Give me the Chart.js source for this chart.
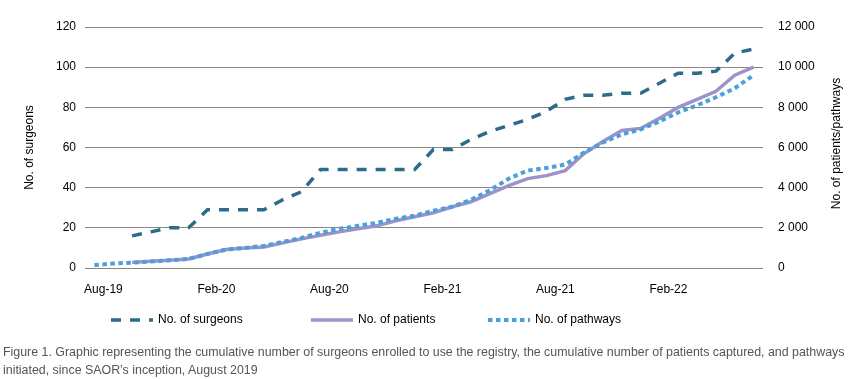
<!DOCTYPE html>
<html>
<head>
<meta charset="utf-8">
<script src="https://cdn.jsdelivr.net/npm/chart.js@4.4.1/dist/chart.umd.min.js"></script>
<style>
  body { margin: 0; background: #fff; }
  #wrap { position: relative; width: 849px; height: 379px; }
  #caption {
    position: absolute; left: 3px; top: 343px;
    font: 12.4px "Liberation Sans", Arial, sans-serif; line-height: 18px;
    color: #555; white-space: nowrap;
  }
</style>
</head>
<body>
<div id="wrap">
  <canvas id="chart" width="849" height="379"></canvas>
  <div id="caption">Figure 1. Graphic representing the cumulative number of surgeons enrolled to use the registry, the cumulative number of patients captured, and pathways<br>initiated, since SAOR’s inception, August 2019</div>
</div>
<script>
const months = ['Aug-19','Sep-19','Oct-19','Nov-19','Dec-19','Jan-20','Feb-20','Mar-20','Apr-20','May-20','Jun-20','Jul-20',
  'Aug-20','Sep-20','Oct-20','Nov-20','Dec-20','Jan-21','Feb-21','Mar-21','Apr-21','May-21','Jun-21','Jul-21',
  'Aug-21','Sep-21','Oct-21','Nov-21','Dec-21','Jan-22','Feb-22','Mar-22','Apr-22','May-22','Jun-22','Jul-22']

const surgeons = [null, null, 16, 18, 20, 20, 29, 29, 29, 29, 34, 38,
  49, 49, 49, 49, 49, 49, 59, 59, 64, 68, 71, 74,
  78, 84, 86, 86, 87, 87, 92, 97, 97, 98, 107, 109]

const patients = [null, null, 280, 330, 380, 450, 700, 920, 1000, 1050, 1250, 1450,
  1630, 1800, 1950, 2100, 2350, 2550, 2750, 3050, 3300, 3700, 4100, 4450,
  4600, 4850, 5700, 6300, 6850, 6950, 7450, 8000, 8400, 8800, 9600, 10000]

const pathways = [150, 220, 270, 320, 380, 450, 700, 920, 1000, 1100, 1300, 1500,
  1750, 1950, 2100, 2250, 2450, 2600, 2850, 3050, 3400, 3870, 4450, 4850,
  4980, 5150, 5750, 6250, 6650, 6900, 7300, 7750, 8100, 8500, 8950, 9600]

const leftTitle = 'No. of surgeons'
const rightTitle = 'No. of patients/pathways'

const font = {family: '"Liberation Sans", Arial, sans-serif', size: 12}

// legend + right axis title (reads bottom-to-top, like the left one)
const extras = {
  id: 'extras',
  afterDraw(chart) {
    const ctx = chart.ctx
    const area = chart.chartArea
    ctx.save()
    ctx.font = '12px "Liberation Sans", Arial, sans-serif'
    ctx.fillStyle = '#000'
    ctx.textAlign = 'center'
    ctx.textBaseline = 'middle'
    ctx.translate(837, (area.top + area.bottom) / 2 - 4)
    ctx.rotate(-Math.PI / 2)
    ctx.fillText(rightTitle, 0, 0)
    ctx.restore()

    const starts = [111, 311, 488]
    const y = 320
    chart.data.datasets.forEach((ds, i) => {
      const x = starts[i]
      ctx.save()
      ctx.strokeStyle = ds.borderColor
      ctx.lineWidth = ds.borderWidth
      ctx.lineCap = 'butt'
      ctx.setLineDash(ds.borderDash || [])
      ctx.beginPath()
      ctx.moveTo(x, y)
      ctx.lineTo(x + 42, y)
      ctx.stroke()
      ctx.setLineDash([])
      ctx.font = '12px "Liberation Sans", Arial, sans-serif'
      ctx.fillStyle = '#000'
      ctx.textAlign = 'left'
      ctx.textBaseline = 'middle'
      ctx.fillText(ds.label, x + 47, y)
      ctx.restore()
    })
  }
}

let ctx = document.getElementById('chart').getContext('2d')
let chart = new Chart(ctx, {
  type: 'line',
  data: {
    labels: months,
    datasets: [
      {
        label: 'No. of surgeons',
        data: surgeons,
        yAxisID: 'y',
        borderColor: '#2D6B8A',
        borderWidth: 3.5,
        borderDash: [10, 9],
        borderCapStyle: 'butt',
        pointRadius: 0,
        tension: 0,
        order: 3,
      },
      {
        label: 'No. of patients',
        data: patients,
        yAxisID: 'y1',
        borderColor: '#9B93C9',
        borderWidth: 3.5,
        pointRadius: 0,
        tension: 0,
        order: 2,
      },
      {
        label: 'No. of pathways',
        data: pathways,
        yAxisID: 'y1',
        borderColor: '#4E9FD9',
        borderWidth: 4,
        borderDash: [4.5, 3.5],
        borderCapStyle: 'butt',
        pointRadius: 0,
        tension: 0,
        order: 1,
      },
    ],
  },
  options: {
    responsive: false,
    animation: false,
    layout: {padding: {top: 27, bottom: 71, left: 0, right: 0}},
    plugins: {
      legend: {display: false},
      tooltip: {enabled: false},
    },
    scales: {
      x: {
        offset: true,
        grid: {display: false},
        border: {display: false},
        ticks: {
          autoSkip: false,
          maxRotation: 0,
          labelOffset: 9,
          padding: 6,
          color: '#000',
          font: font,
          callback: (val, idx) => idx % 6 === 0 ? months[idx] : '',
        },
        afterFit: (s) => { s.height = 40 },
      },
      y: {
        position: 'left',
        min: 0, max: 120,
        ticks: {stepSize: 20, padding: 9, color: '#000', font: font},
        grid: {color: '#868686', lineWidth: 1, drawTicks: false},
        border: {display: false},
        title: {display: true, text: leftTitle, color: '#000', font: font, padding: {top: 22, bottom: 0}},
        afterFit: (s) => { s.width = 85 },
      },
      y1: {
        position: 'right',
        min: 0, max: 12000,
        ticks: {
          stepSize: 2000, padding: 15, color: '#000', font: font,
          callback: (v) => String(v).replace(/\B(?=(\d{3})+(?!\d))/g, ' '),
        },
        grid: {display: false, drawTicks: false},
        border: {display: false},
        afterFit: (s) => { s.width = 86 },
      },
    },
  },
  plugins: [extras],
})
</script>
</body>
</html>
